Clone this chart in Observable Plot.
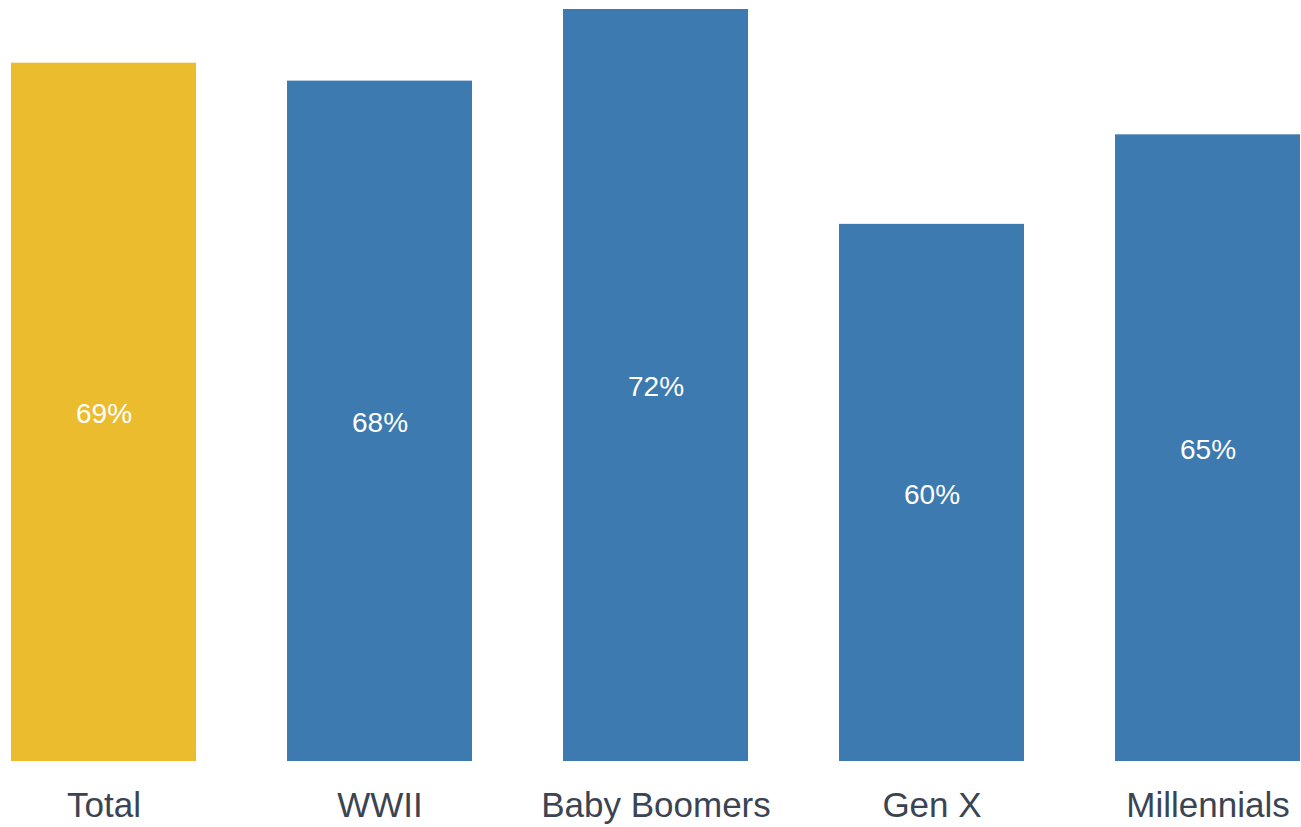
<!DOCTYPE html>
<html><head><meta charset="utf-8">
<script src="https://cdn.jsdelivr.net/npm/d3@7"></script>
<script src="https://cdn.jsdelivr.net/npm/@observablehq/plot@0.6"></script>
<style>body{margin:0;background:#fff;font-family:"Liberation Sans",Arial,sans-serif}</style>
</head><body><div id="chart"></div>
<script>
const categories = ["Total", "WWII", "Baby Boomers", "Gen X", "Millennials"];
const values = [69, 68, 72, 60, 65];
const colors = ["#EBBC2E", "#3C7AB0", "#3C7AB0", "#3C7AB0", "#3C7AB0"];
const data = categories.map((c, i) => ({cat: c, value: values[i], color: colors[i]}));

const chart = Plot.plot({
  width: 1301,
  height: 827,
  marginLeft: 9,
  marginRight: 0,
  marginTop: 9,
  marginBottom: 66,
  style: {fontFamily: "Liberation Sans, Arial, sans-serif", background: "#fff"},
  x: {domain: categories, padding: 0.3315, paddingOuter: 0, label: null},
  y: {domain: [30, 72], axis: null},
  marks: [
    Plot.rectY(data, {x: "cat", y1: 30, y2: "value", fill: "color"}),
    Plot.text(data, {x: "cat", y: d => (30 + d.value) / 2, text: d => d.value + "%", fill: "white", fontSize: 28, dy: 2}),
    Plot.axisX({tickSize: 0, tickPadding: 31, fontSize: 35, color: "#3b4452", label: null})
  ]
});
document.getElementById("chart").appendChild(chart);
</script></body></html>
